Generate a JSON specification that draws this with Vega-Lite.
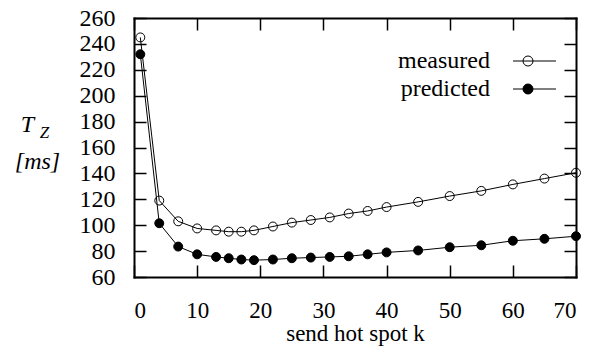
{
  "$schema": "https://vega.github.io/schema/vega-lite/v6.json",
  "width": 442,
  "height": 259,
  "autosize": "none",
  "padding": {"left": 134, "top": 18, "right": 13, "bottom": 72},
  "background": "white",
  "config": {
    "view": {"stroke": null},
    "font": "serif",
    "axis": {
      "labelFont": "serif",
      "titleFont": "serif",
      "labelColor": "black",
      "titleFontWeight": "normal",
      "titleColor": "black",
      "domainColor": "black",
      "domainWidth": 2,
      "domainCap": "square",
      "tickColor": "black",
      "tickWidth": 1.5,
      "tickSize": -12,
      "grid": false
    }
  },
  "data": {
    "values": [
      {"series": "measured", "k": 1, "T": 245},
      {"series": "measured", "k": 4, "T": 119},
      {"series": "measured", "k": 7, "T": 103},
      {"series": "measured", "k": 10, "T": 97.5},
      {"series": "measured", "k": 13, "T": 96},
      {"series": "measured", "k": 15, "T": 95},
      {"series": "measured", "k": 17, "T": 95},
      {"series": "measured", "k": 19, "T": 96},
      {"series": "measured", "k": 22, "T": 99},
      {"series": "measured", "k": 25, "T": 102},
      {"series": "measured", "k": 28, "T": 104},
      {"series": "measured", "k": 31, "T": 106},
      {"series": "measured", "k": 34, "T": 109},
      {"series": "measured", "k": 37, "T": 111},
      {"series": "measured", "k": 40, "T": 114},
      {"series": "measured", "k": 45, "T": 118},
      {"series": "measured", "k": 50, "T": 122.5},
      {"series": "measured", "k": 55, "T": 126.5},
      {"series": "measured", "k": 60, "T": 131.5},
      {"series": "measured", "k": 65, "T": 136},
      {"series": "measured", "k": 70, "T": 140.5},
      {"series": "predicted", "k": 1, "T": 232},
      {"series": "predicted", "k": 4, "T": 101.5},
      {"series": "predicted", "k": 7, "T": 83.5},
      {"series": "predicted", "k": 10, "T": 77.5},
      {"series": "predicted", "k": 13, "T": 75.5},
      {"series": "predicted", "k": 15, "T": 74.5},
      {"series": "predicted", "k": 17, "T": 73.5},
      {"series": "predicted", "k": 19, "T": 73},
      {"series": "predicted", "k": 22, "T": 73.5},
      {"series": "predicted", "k": 25, "T": 74.5},
      {"series": "predicted", "k": 28, "T": 75},
      {"series": "predicted", "k": 31, "T": 75.5},
      {"series": "predicted", "k": 34, "T": 76},
      {"series": "predicted", "k": 37, "T": 77.5},
      {"series": "predicted", "k": 40, "T": 79},
      {"series": "predicted", "k": 45, "T": 80.5},
      {"series": "predicted", "k": 50, "T": 83},
      {"series": "predicted", "k": 55, "T": 84.5},
      {"series": "predicted", "k": 60, "T": 88},
      {"series": "predicted", "k": 65, "T": 89.5},
      {"series": "predicted", "k": 70, "T": 91.5}
    ]
  },
  "layer": [
    {
      "mark": {"type": "line", "color": "black", "strokeWidth": 1},
      "encoding": {
        "x": {
          "field": "k", "type": "quantitative",
          "scale": {"domain": [0, 70], "nice": false, "zero": false},
          "axis": {
            "orient": "bottom",
            "values": [0, 10, 20, 30, 40, 50, 60, 70],
            "labelFontSize": 23,
            "labelBaseline": "alphabetic",
            "labelPadding": 52,
            "title": "send hot spot k",
            "titleFontSize": 23,
            "titleX": 221,
            "titleY": 63,
            "titleBaseline": "alphabetic",
            "titleAlign": "center"
          }
        },
        "y": {
          "field": "T", "type": "quantitative",
          "scale": {"domain": [60, 260], "nice": false, "zero": false},
          "axis": {
            "orient": "left",
            "values": [60, 80, 100, 120, 140, 160, 180, 200, 220, 240, 260],
            "labelFontSize": 24,
            "labelPadding": 31,
            "title": "[ms]",
            "titleFontSize": 24,
            "titleFontStyle": "italic",
            "titleAngle": 0,
            "titleAlign": "center",
            "titleBaseline": "alphabetic",
            "titleX": -97,
            "titleY": 150
          }
        },
        "detail": {"field": "series", "type": "nominal"}
      }
    },
    {
      "mark": {"type": "point", "filled": true, "stroke": "black", "strokeWidth": 1, "size": 80, "opacity": 1},
      "encoding": {
        "x": {
          "field": "k", "type": "quantitative",
          "axis": {
            "orient": "top",
            "values": [0, 10, 20, 30, 40, 50, 60, 70],
            "labels": false,
            "title": "Z",
            "titleFontStyle": "italic",
            "titleFontSize": 17,
            "titleAngle": 0,
            "titleAlign": "center",
            "titleBaseline": "alphabetic",
            "titleX": -90,
            "titleY": 119
          }
        },
        "y": {
          "field": "T", "type": "quantitative",
          "axis": {
            "orient": "right",
            "values": [60, 80, 100, 120, 140, 160, 180, 200, 220, 240, 260],
            "labels": false,
            "title": "T",
            "titleFontStyle": "italic",
            "titleFontSize": 24,
            "titleAngle": 0,
            "titleAlign": "center",
            "titleBaseline": "alphabetic",
            "titleX": -549,
            "titleY": 113
          }
        },
        "fill": {
          "field": "series", "type": "nominal",
          "scale": {"domain": ["measured", "predicted"], "range": ["transparent", "black"]},
          "legend": {
            "orient": "none",
            "legendX": 382,
            "legendY": 31,
            "direction": "vertical",
            "title": null,
            "padding": 0,
            "rowPadding": 4,
            "symbolType": "M-3,0H5.6M-1,0A1,1,0,1,1,1,0A1,1,0,1,1,-1,0Z",
            "symbolSize": 100,
            "symbolStrokeColor": "black",
            "symbolStrokeWidth": 1,
            "labelFont": "serif",
            "labelFontSize": 24,
            "labelColor": "black",
            "labelAlign": "right",
            "labelOffset": -50,
            "labelLimit": 0
          }
        }
      }
    }
  ],
  "resolve": {"axis": {"x": "independent", "y": "independent"}}
}
